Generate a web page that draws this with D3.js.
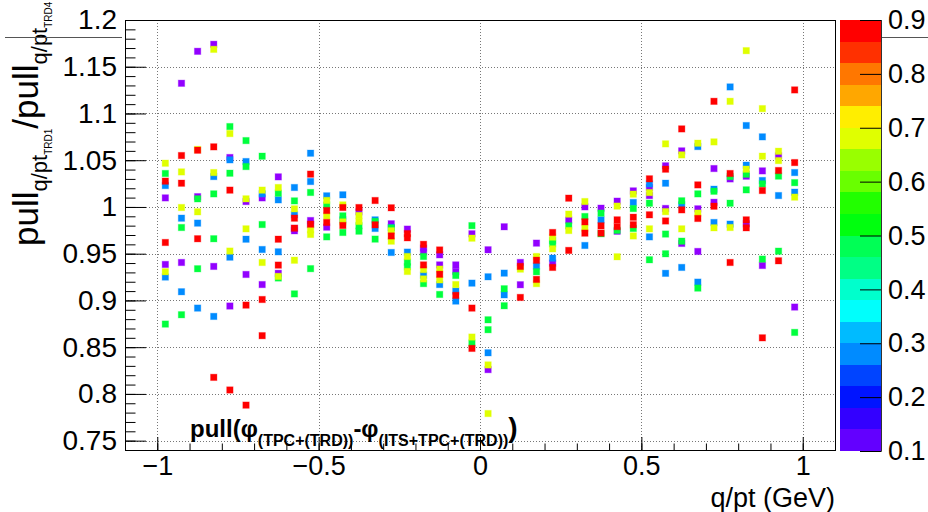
<!DOCTYPE html>
<html>
<head>
<meta charset="utf-8">
<script src="https://cdn.jsdelivr.net/npm/d3@7"></script>
<style>
  body { margin: 0; background: #fff; }
  svg { display: block; font-family: "Liberation Sans", Arial, Helvetica, sans-serif; }
</style>
</head>
<body>
<svg id="chart" width="928" height="512"></svg>
<script>
// q/pt bin centres (GeV^-1)
const qpt = [-0.975, -0.925, -0.875, -0.825, -0.775, -0.725, -0.675, -0.625, -0.575, -0.525,
             -0.475, -0.425, -0.375, -0.325, -0.275, -0.225, -0.175, -0.125, -0.075, -0.025,
              0.025,  0.075,  0.125,  0.175,  0.225,  0.275,  0.325,  0.375,  0.425,  0.475,
              0.525,  0.575,  0.625,  0.675,  0.725,  0.775,  0.825,  0.875,  0.925,  0.975];

// colour (z) value of each series
const zLevels = [0.1, 0.3, 0.5, 0.7, 0.9];

// pull ratio per q/pt bin, one list per z value (points outside the y range are not stored)
const ratioZ01 = [
  [1.0097, 0.9385], [1.1323, 0.9406], [1.1665, 1.011], [1.174, 0.9364], [1.0529, 0.894],
  [1.0058, 0.9278], [1.0097, 0.917], [1.0322, 0.929], [0.9745, 0.977], [0.9855, 0.981],
  [0.9784], [], [0.9948], [], [0.982],
  [0.9763], [0.956, 0.952], [0.9488, 0.938], [0.938, 0.931], [0.9713],
  [0.9542, 0.826], [0.9788], [0.9406, 0.9168], [0.9613], [0.9399],
  [0.9859], [1.0001], [0.9987], [1.0062, 0.974], [1.0172],
  [1.0208, 1.0122], [1.044, 0.9984], [1.060, 0.961], [0.998, 0.9524], [1.0411, 1.005],
  [1.030], [1.0329, 0.982], [1.0386, 0.9374], [1.0546], [0.8929]
];
const ratioZ03 = [
  [1.0229, 0.925], [0.988, 0.9093], [0.9827, 0.8918], [1.0325, 0.8829], [1.0504, 0.9463],
  [1.0486, 0.9655], [1.014, 0.9545], [1.0076, 0.952], [1.0208, 0.9916], [1.0575, 1.0272],
  [1.0119], [1.013, 0.9862], [], [0.9862, 0.977], [0.978, 0.9513],
  [0.9517], [0.927], [0.917], [0.910, 0.8993], [0.9185],
  [0.9253, 0.844], [0.9292, 0.906], [], [0.9367], [0.9452],
  [], [0.9588], [0.9862], [], [1.0048],
  [1.0247, 0.968], [1.0254, 0.929], [1.0023, 0.9353], [1.0646, 0.9196], [1.019, 0.9834],
  [1.1284, 0.9816], [1.0871, 1.0447], [1.075, 1.0283], [1.0122], [1.0368, 1.0158]
];
const ratioZ05 = [
  [1.0358, 0.8747], [0.978, 0.8847], [1.0087, 0.9339], [1.014, 0.966], [1.086, 1.0361],
  [1.071, 1.0432], [1.0543, 0.9812], [1.0147, 0.924], [1.0065, 0.907], [1.0155, 0.934],
  [1.002, 0.968], [0.9905, 0.9727], [0.98, 0.9741], [0.9845, 0.9656], [0.9775],
  [0.941, 0.936], [0.947, 0.918], [0.9064], [0.9267], [0.980, 0.8544],
  [0.8793, 0.8687], [0.9125, 0.8943], [], [0.9307], [0.9641, 0.9606],
  [0.9798], [0.9898], [0.9934, 0.9713], [0.975], [0.9983, 0.977],
  [1.004, 0.9435], [0.971, 0.9499], [1.0066, 0.9634], [1.014, 0.9132], [1.0168],
  [1.0325, 1.004], [1.035, 1.0183], [1.0247, 0.9442], [1.033, 0.9527], [1.026, 0.8658]
];
const ratioZ07 = [
  [1.0468, 0.9307], [1.0375, 0.9994], [1.0615, 0.9948], [1.1686, 1.0368], [1.0785, 0.9528],
  [1.0087, 0.9766], [1.018, 0.9406], [1.0208, 0.9257], [0.998, 0.943], [0.9755, 0.9706],
  [1.007, 0.9905], [1.0022, 0.984], [0.9909, 0.9845], [], [0.9745, 0.9634],
  [0.947, 0.931], [0.933, 0.923], [0.9335, 0.922], [0.917], [0.9666, 0.8608],
  [0.831, 0.779], [], [0.9335], [0.947, 0.918], [0.9677, 0.9552],
  [0.9923, 0.9748], [1.0058, 0.9773], [], [1.0009, 0.9467], [1.0137, 0.969],
  [1.0154, 0.9766], [1.0675, 0.995], [1.0557, 0.9766], [1.0682, 0.9934], [1.0696, 0.9777],
  [1.113, 0.978], [1.1672, 1.0404], [1.1052, 1.0543], [1.0596, 1.0496], [1.0105]
];
const ratioZ09 = [
  [1.0276, 0.962], [1.055, 1.0254], [1.0607, 0.966], [1.0643, 0.8177], [1.018, 0.8042],
  [0.895, 0.788], [0.901, 0.8623], [0.9655, 0.9378], [0.988, 0.9773], [1.0351, 0.9816],
  [0.9962, 0.9834], [0.9994, 0.9802], [0.9994], [1.0069, 0.9809], [0.9991, 0.969],
  [0.9715, 0.967], [0.960, 0.938], [0.954, 0.928], [0.9054], [0.8918, 0.8487],
  [], [], [0.9364, 0.9032], [0.943, 0.9225], [0.9727, 0.9353],
  [1.0094, 0.9535], [0.9841, 0.972], [0.9798, 0.972], [0.9862, 0.979], [0.989, 0.981],
  [1.0301, 0.9916], [1.0404, 0.985], [1.0835, 0.9969], [1.0236, 0.9877], [1.113, 1.0008],
  [1.0358, 0.9406], [0.9862, 0.9777], [1.0176, 0.860], [1.039, 0.9424], [1.1252, 1.0475]
];

// axis ticks
const xMajorTicks = [-1, -0.5, 0, 0.5, 1];
const xTickLabels = ["\u22121", "\u22120.5", "0", "0.5", "1"];
const yMajorTicks = [0.75, 0.8, 0.85, 0.9, 0.95, 1, 1.05, 1.1, 1.15, 1.2];
const yTickLabels = ["0.75", "0.8", "0.85", "0.9", "0.95", "1", "1.05", "1.1", "1.15", "1.2"];
const zTicks = [0.1, 0.2, 0.3, 0.4, 0.5, 0.6, 0.7, 0.8, 0.9];
const zTickLabels = ["0.1", "0.2", "0.3", "0.4", "0.5", "0.6", "0.7", "0.8", "0.9"];

const series = [ratioZ01, ratioZ03, ratioZ05, ratioZ07, ratioZ09];

// ---------- layout ----------
const svg = d3.select("#chart");
const frame = { left: 125, right: 835, top: 20, bottom: 450 };
const x = d3.scaleLinear().domain([-1.1, 1.1]).range([frame.left, frame.right]);
const y = d3.scaleLinear().domain([0.74, 1.2]).range([frame.bottom, frame.top]);
const zScale = d3.scaleLinear().domain([0.1, 0.9]).range([451, 20]);

// 50-colour rainbow palette (violet -> red)
const palette = d3.range(50).map(i => d3.hsl(280 - (i + 1) * 5.6, 1, 0.5).formatHex());
const markerColour = d3.scaleQuantize().domain([0.1, 0.9]).range(palette);

// ---------- grid ----------
const grid = svg.append("g").attr("stroke", "#777").attr("stroke-width", 1)
  .attr("stroke-dasharray", "1,2").attr("shape-rendering", "crispEdges");
grid.selectAll("line.gx").data(xMajorTicks).join("line")
  .attr("x1", d => Math.round(x(d)) + 0.5).attr("x2", d => Math.round(x(d)) + 0.5)
  .attr("y1", frame.top).attr("y2", frame.bottom);
grid.selectAll("line.gy").data(yMajorTicks.filter(d => d < 1.2)).join("line")
  .attr("x1", frame.left).attr("x2", frame.right)
  .attr("y1", d => Math.round(y(d)) + 0.5).attr("y2", d => Math.round(y(d)) + 0.5);

// ---------- markers ----------
const pts = [];
series.forEach((s, si) => s.forEach((vals, bi) => vals.forEach(v => pts.push({ x: qpt[bi], y: v, z: zLevels[si] }))));
const ms = 6.4;
svg.append("g").selectAll("rect").data(pts).join("rect")
  .attr("x", d => x(d.x) - ms / 2).attr("y", d => y(d.y) - ms / 2)
  .attr("width", ms).attr("height", ms)
  .attr("fill", d => markerColour(d.z))
  .attr("stroke", d => markerColour(d.z)).attr("stroke-opacity", 0.3).attr("stroke-width", 1);

// ---------- frame and axes ----------
svg.append("rect").attr("x", frame.left + 0.5).attr("y", frame.top + 0.5)
  .attr("width", frame.right - frame.left).attr("height", frame.bottom - frame.top)
  .attr("fill", "none").attr("stroke", "#000").attr("stroke-width", 1);

const yMinor = d3.range(75, 121).map(d => d / 100);
const xMinor = d3.range(-11, 12).map(d => d / 10);

function cleanAxis(g) { g.select(".domain").remove(); g.selectAll("text").remove(); }

svg.append("g").attr("transform", `translate(${frame.left},0)`)
  .call(d3.axisRight(y).tickValues(yMajorTicks).tickSize(21).tickFormat(""))
  .call(cleanAxis);
svg.append("g").attr("transform", `translate(${frame.left},0)`)
  .call(d3.axisRight(y).tickValues(yMinor).tickSize(10.5).tickFormat(""))
  .call(cleanAxis);
svg.append("g").attr("transform", `translate(0,${frame.bottom})`)
  .call(d3.axisTop(x).tickValues(xMajorTicks).tickSize(13).tickFormat(""))
  .call(cleanAxis);
svg.append("g").attr("transform", `translate(0,${frame.bottom})`)
  .call(d3.axisTop(x).tickValues(xMinor).tickSize(6.5).tickFormat(""))
  .call(cleanAxis);

// tick labels
const yLab = svg.append("g").attr("transform", `translate(${frame.left},0)`)
  .call(d3.axisLeft(y).tickValues(yMajorTicks).tickSize(0).tickPadding(8)
    .tickFormat((d, i) => yTickLabels[i]));
yLab.select(".domain").remove();
yLab.selectAll("text").attr("font-size", 28).attr("font-family", null).attr("fill", "#000");

const xLab = svg.append("g").attr("transform", `translate(0,${frame.bottom})`)
  .call(d3.axisBottom(x).tickValues(xMajorTicks).tickSize(0).tickPadding(6)
    .tickFormat((d, i) => xTickLabels[i]));
xLab.select(".domain").remove();
xLab.selectAll("text").attr("font-size", 27).attr("font-family", null).attr("fill", "#000");

// x title
svg.append("text").attr("x", frame.right).attr("y", 506.5).attr("text-anchor", "end")
  .attr("font-size", 27).text("q/pt (GeV)");

// y title
const yt = svg.append("text").attr("transform", "translate(38,246) rotate(-90)").attr("font-size", 35);
yt.append("tspan").text("pull");
yt.append("tspan").attr("font-size", 22).attr("dy", 9).text("q/pt");
yt.append("tspan").attr("font-size", 10).attr("dy", 5).text("TRD1");
yt.append("tspan").attr("dy", -14).text("/pull");
yt.append("tspan").attr("font-size", 22).attr("dy", 9).text("q/pt");
yt.append("tspan").attr("font-size", 10).attr("dy", 5).text("TRD4");

// in-frame label
const lab = svg.append("text").attr("x", 190).attr("y", 437).attr("font-size", 24).attr("font-weight", "bold");
lab.append("tspan").text("pull(\u03c6");
lab.append("tspan").attr("font-size", 16).attr("dy", 9).text("(TPC+(TRD))");
lab.append("tspan").attr("dy", -9).text("-\u03c6");
lab.append("tspan").attr("font-size", 16).attr("dy", 9).text("(ITS+TPC+(TRD))");
lab.append("tspan").attr("font-size", 28).attr("dy", -9).text(")");

// ---------- colour bar ----------
const bar = { left: 840, right: 881 };
const bands = d3.range(20);
svg.append("g").selectAll("rect").data(bands).join("rect")
  .attr("x", bar.left).attr("width", bar.right - bar.left)
  .attr("y", k => zScale(0.1 + 0.04 * (k + 1)))
  .attr("height", k => zScale(0.1 + 0.04 * k) - zScale(0.1 + 0.04 * (k + 1)))
  .attr("fill", k => palette[Math.floor((k + 0.99) * 2.5)])
  .attr("shape-rendering", "crispEdges");

const zAx = svg.append("g").attr("transform", `translate(${bar.right},0)`)
  .call(d3.axisLeft(zScale).tickValues(zTicks).tickSize(21).tickFormat(""));
zAx.select(".domain").attr("stroke", "#333");
zAx.selectAll("text").remove();
svg.append("line").attr("x1", bar.right + 0.5).attr("x2", bar.right + 0.5).attr("y1", 20).attr("y2", 451).attr("stroke", "#333");
const zLab = svg.append("g").attr("transform", `translate(${bar.right},0)`)
  .call(d3.axisRight(zScale).tickValues(zTicks).tickSize(0).tickPadding(7)
    .tickFormat((d, i) => zTickLabels[i]));
zLab.select(".domain").remove();
zLab.selectAll("text").attr("font-size", 27).attr("font-family", null).attr("fill", "#000");

// thin separator lines at the top corners of the canvas
svg.append("line").attr("x1", 5).attr("x2", 122).attr("y1", 37.5).attr("y2", 37.5).attr("stroke", "#555");
svg.append("line").attr("x1", 882).attr("x2", 928).attr("y1", 37.5).attr("y2", 37.5).attr("stroke", "#555");
</script>
</body>
</html>
